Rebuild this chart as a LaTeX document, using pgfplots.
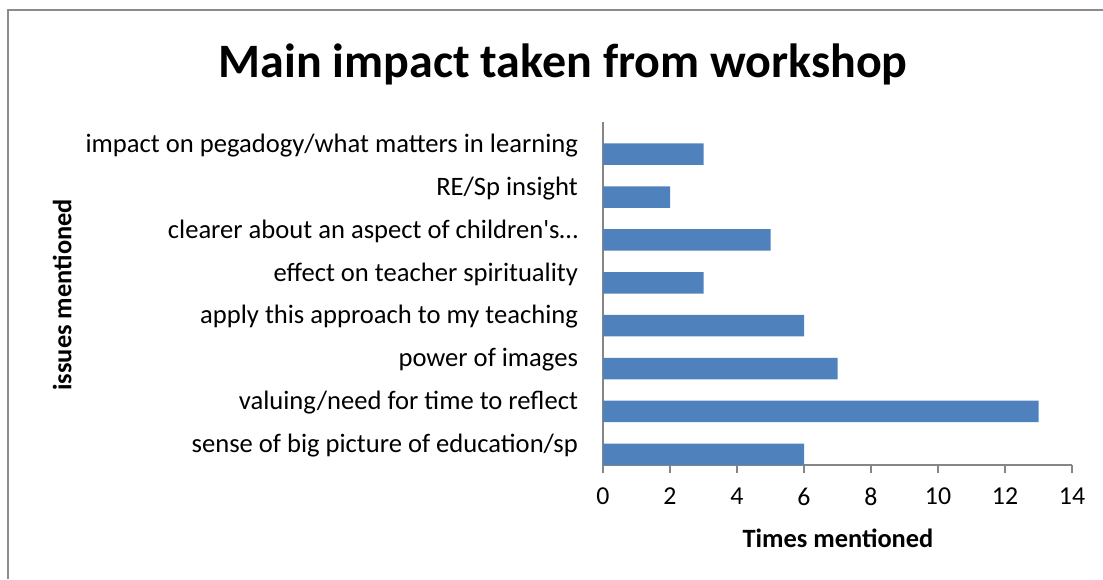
\documentclass[border=0pt]{standalone}
\usepackage{fontspec}
\setmainfont{Carlito}
\usepackage{pgfplots}
\pgfplotsset{compat=1.18}
\definecolor{barblue}{HTML}{4F81BD}
\definecolor{axgray}{HTML}{868686}
\definecolor{framegray}{HTML}{8C8C8C}
\begin{document}
\begin{tikzpicture}
\path[use as bounding box] (0,0) rectangle (551.5pt,-289.5pt);
\draw[framegray, line width=1pt] (4pt,-289.5pt) -- (4pt,-5pt) -- (551.5pt,-5pt);
\begin{axis}[
  at={(301.5pt,-232.5pt)}, anchor=south west,
  scale only axis, width=234.5pt, height=171.5pt,
  xbar, bar width=0.5, bar shift=-0.25,
  xmin=0, xmax=14, ymin=0.5, ymax=8.5,
  xtick={0,2,...,14},
  ytick={1,...,8},
  yticklabels={sense of big picture of education/sp,
    valuing/need for time to reflect,
    power of images,
    apply this approach to my teaching,
    effect on teacher spirituality,
    clearer about an aspect of children\textquotesingle s…,
    RE/Sp insight,
    impact on pegadogy/what matters in learning},
  axis x line*=bottom, axis y line*=left,
  axis line style={axgray, line width=0.6pt},
  x axis line style={-}, y axis line style={-},
  xtick style={axgray, line width=0.6pt},
  xtick align=outside, major tick length=4pt,
  ytick style={draw=none},
  tick label style={black},
  xticklabel style={font=\fontsize{12.9}{14}\selectfont, yshift=-4pt},
  yticklabel style={font=\fontsize{13.3}{15}\selectfont, xshift=-5pt, yshift=-1pt},
  /pgf/number format/assume math mode=true,
  title={Main impact taken from workshop},
  title style={font=\fontsize{24}{27}\selectfont\bfseries, at={(axis description cs:-0.085,1.134)}, anchor=center},
  xlabel={Times mentioned},
  xlabel style={font=\fontsize{13.2}{15}\selectfont\bfseries, at={(axis description cs:0.501,-0.213)}, anchor=center},
  ylabel={issues mentioned},
  ylabel style={font=\fontsize{13.2}{15}\selectfont\bfseries, at={(axis description cs:-1.153,0.496)}, anchor=center},
]
\addplot[fill=barblue, draw=none] coordinates {
  (6,1) (13,2) (7,3) (6,4) (3,5) (5,6) (2,7) (3,8)
};
\end{axis}
\end{tikzpicture}
\end{document}
